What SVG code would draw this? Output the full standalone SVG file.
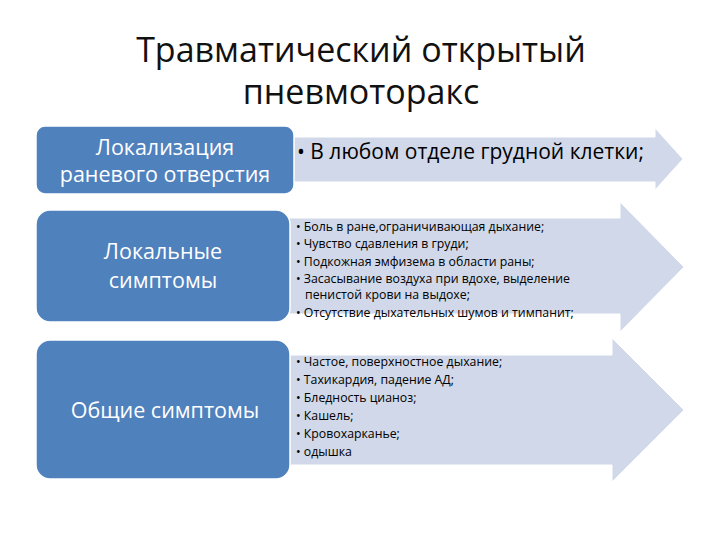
<svg xmlns="http://www.w3.org/2000/svg" width="720" height="540" viewBox="0 0 720 540">
<style>
.title{font-family:"Open Sans","Noto Sans","DejaVu Sans",sans-serif;font-size:34px;fill:#111;text-anchor:middle}
.box{fill:#4F81BD;stroke:#fff;stroke-width:1.5}
.arrow{fill:#D0D8E9;stroke:#fff;stroke-width:1}
.bt{font-family:"Open Sans","Noto Sans","DejaVu Sans",sans-serif;font-size:21.5px;fill:#fff;text-anchor:middle}
.big{font-family:"Open Sans","Noto Sans","DejaVu Sans",sans-serif;font-size:21px;fill:#000}
.sm{font-family:"Open Sans","Noto Sans","DejaVu Sans",sans-serif;font-size:12.3px;fill:#000}
</style>
<rect width="720" height="540" fill="#fff"/>
<g id="title">
<text class="title" x="361" y="62">Травматический открытый</text>
<text class="title" x="361" y="104">пневмоторакс</text>
</g>
<g id="connectors">
<polygon id="arrow1" class="arrow" points="280,137 655,137 655,128 683,159 655,190 655,182 280,182"/>
<polygon id="arrow2" class="arrow" points="280,218 620,218 620,202 684,267 620,332 620,314 280,314"/>
<polygon id="arrow3" class="arrow" points="280,355 612,355 612,338 684,410 612,482 612,465 280,465"/>
</g>
<g id="node1">
<rect class="box" x="36" y="126" width="258" height="68" rx="9"/>
<text class="bt" x="165" y="155">Локализация</text>
<text class="bt" x="165" y="182">раневого отверстия</text>
</g>
<g id="node2">
<rect class="box" x="36" y="210" width="254" height="112" rx="14"/>
<text class="bt" x="163" y="259">Локальные</text>
<text class="bt" x="163" y="288">симптомы</text>
</g>
<g id="node3">
<rect class="box" x="36" y="340" width="254" height="139" rx="14"/>
<text class="bt" x="165" y="418">Общие симптомы</text>
</g>
<g id="text1">
<text class="big" x="297" y="159">• В любом отделе грудной клетки;</text>
</g>
<g id="text2">
<text class="sm" x="296" y="231">• Боль в ране,ограничивающая дыхание;</text>
<text class="sm" x="296" y="248">• Чувство сдавления в груди;</text>
<text class="sm" x="296" y="266">• Подкожная эмфизема в области раны;</text>
<text class="sm" x="296" y="283">• Засасывание воздуха при вдохе, выделение</text>
<text class="sm" x="305" y="299">пенистой крови на выдохе;</text>
<text class="sm" x="296" y="317">• Отсутствие дыхательных шумов и тимпанит;</text>
</g>
<g id="text3">
<text class="sm" x="296" y="366">• Частое, поверхностное дыхание;</text>
<text class="sm" x="296" y="384">• Тахикардия, падение АД;</text>
<text class="sm" x="296" y="402">• Бледность цианоз;</text>
<text class="sm" x="296" y="420">• Кашель;</text>
<text class="sm" x="296" y="438">• Кровохарканье;</text>
<text class="sm" x="296" y="456">• одышка</text>
</g>
</svg>
